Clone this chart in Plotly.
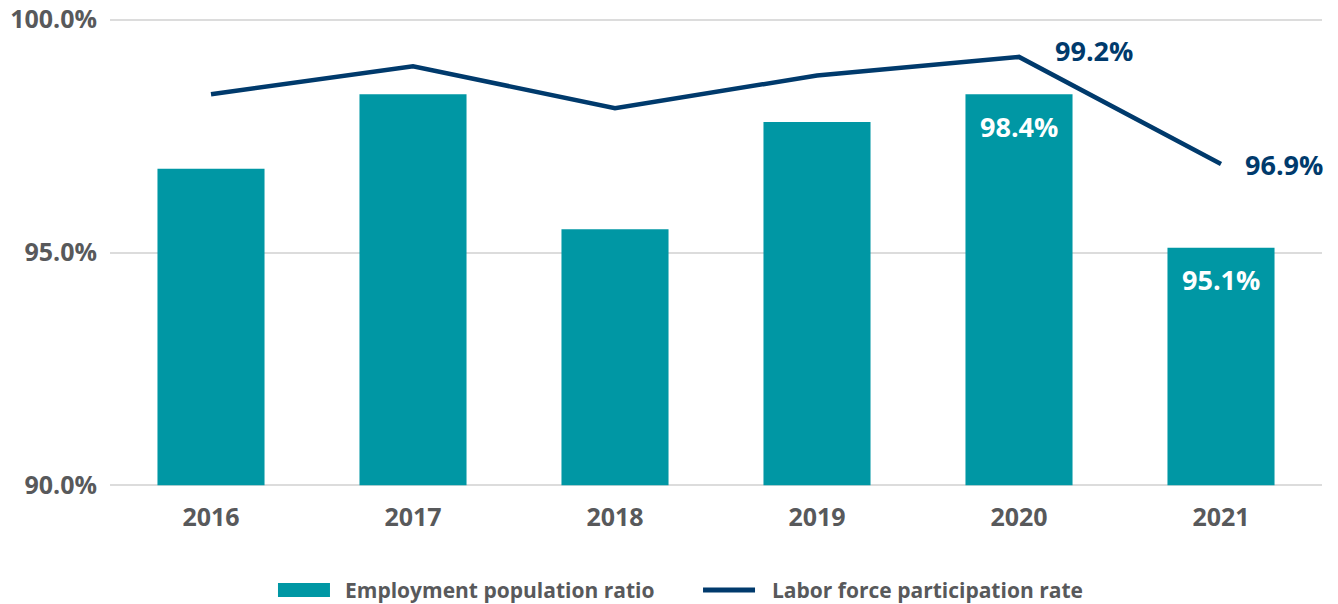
import plotly.graph_objects as go

years = ["2016", "2017", "2018", "2019", "2020", "2021"]
employment_ratio = [96.8, 98.4, 95.5, 97.8, 98.4, 95.1]
participation_rate = [98.4, 99.0, 98.1, 98.8, 99.2, 96.9]
y_ticks = [90, 95, 100]
y_tick_labels = ["90.0%", "95.0%", "100.0%"]
series_names = ["Employment population ratio", "Labor force participation rate"]
axis_floor = 90

TEAL = "#0097A4"
NAVY = "#003A6C"
GRAY = "#58595B"
FONT = "Open Sans"

fig = go.Figure()
fig.add_trace(go.Bar(
    x=years, y=[v - axis_floor for v in employment_ratio], base=axis_floor,
    name=series_names[0],
    marker=dict(color=TEAL, line=dict(width=0)), width=0.53,
    hoverinfo="skip",
))
fig.add_trace(go.Scatter(
    x=years, y=participation_rate, name=series_names[1],
    mode="lines", line=dict(color=NAVY, width=4.5),
    hoverinfo="skip",
))

# bar labels (last two bars); category index used for x
for i in (4, 5):
    fig.add_annotation(x=i, y=employment_ratio[i], text=f"{employment_ratio[i]:.1f}%",
                       showarrow=False, yshift=-32, xref="x", yref="y",
                       font=dict(family=FONT, size=27, color="white", weight="bold"))
# line labels (last two points)
fig.add_annotation(x=4, y=participation_rate[4], text=f"{participation_rate[4]:.1f}%",
                   showarrow=False, xshift=75, yshift=6, xref="x", yref="y",
                   font=dict(family=FONT, size=27, color=NAVY, weight="bold"))
fig.add_annotation(x=5, y=participation_rate[5], text=f"{participation_rate[5]:.1f}%",
                   showarrow=False, xshift=63, yshift=0, xref="x", yref="y",
                   font=dict(family=FONT, size=27, color=NAVY, weight="bold"))

# custom legend (paper coordinates)
fig.add_shape(type="rect", xref="paper", yref="paper",
              x0=0.1386, x1=0.1815, y0=-0.2253, y1=-0.1958,
              fillcolor=TEAL, line=dict(width=0))
fig.add_shape(type="line", xref="paper", yref="paper",
              x0=0.4893, x1=0.5322, y0=-0.2105, y1=-0.2105,
              line=dict(color=NAVY, width=5))
fig.add_annotation(x=0.1922, y=-0.2105, xref="paper", yref="paper", text=series_names[0],
                   showarrow=False, xanchor="left", yanchor="middle",
                   font=dict(family=FONT, size=21, color=GRAY, weight="bold"))
fig.add_annotation(x=0.5446, y=-0.2105, xref="paper", yref="paper", text=series_names[1],
                   showarrow=False, xanchor="left", yanchor="middle",
                   font=dict(family=FONT, size=21, color=GRAY, weight="bold"))

fig.update_layout(
    width=1338, height=604,
    margin=dict(l=110, r=16, t=15, b=114, autoexpand=False),
    paper_bgcolor="white", plot_bgcolor="white",
    showlegend=False,
    xaxis=dict(type="category", range=[-0.5, 5.5], showgrid=False, showline=False, ticks="",
               automargin=False,
               tickfont=dict(family=FONT, size=25, color=GRAY, weight="bold"),
               ticklabelstandoff=10),
    yaxis=dict(range=[89.9, 100.1], tickvals=y_ticks, ticktext=y_tick_labels,
               showgrid=True, gridcolor="#DCDCDC", gridwidth=2, zeroline=False,
               showline=False, ticks="", automargin=False,
               tickfont=dict(family=FONT, size=25, color=GRAY, weight="bold"),
               ticklabelstandoff=12),
)
fig.write_html("out.html")
